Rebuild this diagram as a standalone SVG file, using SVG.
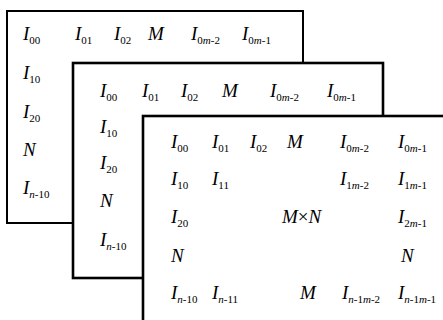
<svg xmlns="http://www.w3.org/2000/svg" width="443" height="320" viewBox="0 0 443 320">
<style>
.box{fill:#fff;stroke:#000;stroke-width:2.6}
text{font-family:"Liberation Serif","Times New Roman",serif;font-style:italic;font-size:19px;fill:#000}
.s{font-size:11px;font-style:normal}
.i{font-style:italic}
</style>
<rect width="443" height="320" fill="#fff"/>
<g id="box1">
<rect class="box" x="7" y="11" width="296" height="212" style="stroke-width:2"/>
<text x="23" y="40">I<tspan class="s" dy="4">00</tspan></text>
<text x="75" y="40">I<tspan class="s" dy="4">01</tspan></text>
<text x="114" y="40">I<tspan class="s" dy="4">02</tspan></text>
<text x="148" y="40">M</text>
<text x="191" y="40">I<tspan class="s" dy="4">0<tspan class="i">m</tspan>-2</tspan></text>
<text x="242" y="40">I<tspan class="s" dy="4">0<tspan class="i">m</tspan>-1</tspan></text>
<text x="23" y="79">I<tspan class="s" dy="4">10</tspan></text>
<text x="23" y="118">I<tspan class="s" dy="4">20</tspan></text>
<text x="23" y="156">N</text>
<text x="23" y="194">I<tspan class="s" dy="4"><tspan class="i">n</tspan>-10</tspan></text>
</g>
<g id="box2">
<rect class="box" x="73" y="63" width="310" height="215"/>
<text x="100" y="97">I<tspan class="s" dy="4">00</tspan></text>
<text x="142" y="97">I<tspan class="s" dy="4">01</tspan></text>
<text x="181" y="97">I<tspan class="s" dy="4">02</tspan></text>
<text x="222" y="97">M</text>
<text x="270" y="97">I<tspan class="s" dy="4">0<tspan class="i">m</tspan>-2</tspan></text>
<text x="327" y="97">I<tspan class="s" dy="4">0<tspan class="i">m</tspan>-1</tspan></text>
<text x="100" y="133">I<tspan class="s" dy="4">10</tspan></text>
<text x="100" y="169">I<tspan class="s" dy="4">20</tspan></text>
<text x="100" y="207">N</text>
<text x="100" y="246">I<tspan class="s" dy="4"><tspan class="i">n</tspan>-10</tspan></text>
</g>
<g id="box3">
<rect class="box" x="143" y="116" width="320" height="220"/>
<text x="171" y="148">I<tspan class="s" dy="4">00</tspan></text>
<text x="212" y="148">I<tspan class="s" dy="4">01</tspan></text>
<text x="250" y="148">I<tspan class="s" dy="4">02</tspan></text>
<text x="287" y="148">M</text>
<text x="340" y="148">I<tspan class="s" dy="4">0<tspan class="i">m</tspan>-2</tspan></text>
<text x="398" y="148">I<tspan class="s" dy="4">0<tspan class="i">m</tspan>-1</tspan></text>
<text x="171" y="185">I<tspan class="s" dy="4">10</tspan></text>
<text x="212" y="185">I<tspan class="s" dy="4">11</tspan></text>
<text x="340" y="185">I<tspan class="s" dy="4">1<tspan class="i">m</tspan>-2</tspan></text>
<text x="398" y="185">I<tspan class="s" dy="4">1<tspan class="i">m</tspan>-1</tspan></text>
<text x="171" y="223">I<tspan class="s" dy="4">20</tspan></text>
<text x="282" y="223">M<tspan style="font-style:normal">×</tspan>N</text>
<text x="398" y="223">I<tspan class="s" dy="4">2<tspan class="i">m</tspan>-1</tspan></text>
<text x="171" y="262">N</text>
<text x="401" y="262">N</text>
<text x="171" y="299">I<tspan class="s" dy="4"><tspan class="i">n</tspan>-10</tspan></text>
<text x="212" y="299">I<tspan class="s" dy="4"><tspan class="i">n</tspan>-11</tspan></text>
<text x="300" y="299">M</text>
<text x="342" y="299">I<tspan class="s" dy="4"><tspan class="i">n</tspan>-1<tspan class="i">m</tspan>-2</tspan></text>
<text x="398" y="299">I<tspan class="s" dy="4"><tspan class="i">n</tspan>-1<tspan class="i">m</tspan>-1</tspan></text>
</g>
</svg>
